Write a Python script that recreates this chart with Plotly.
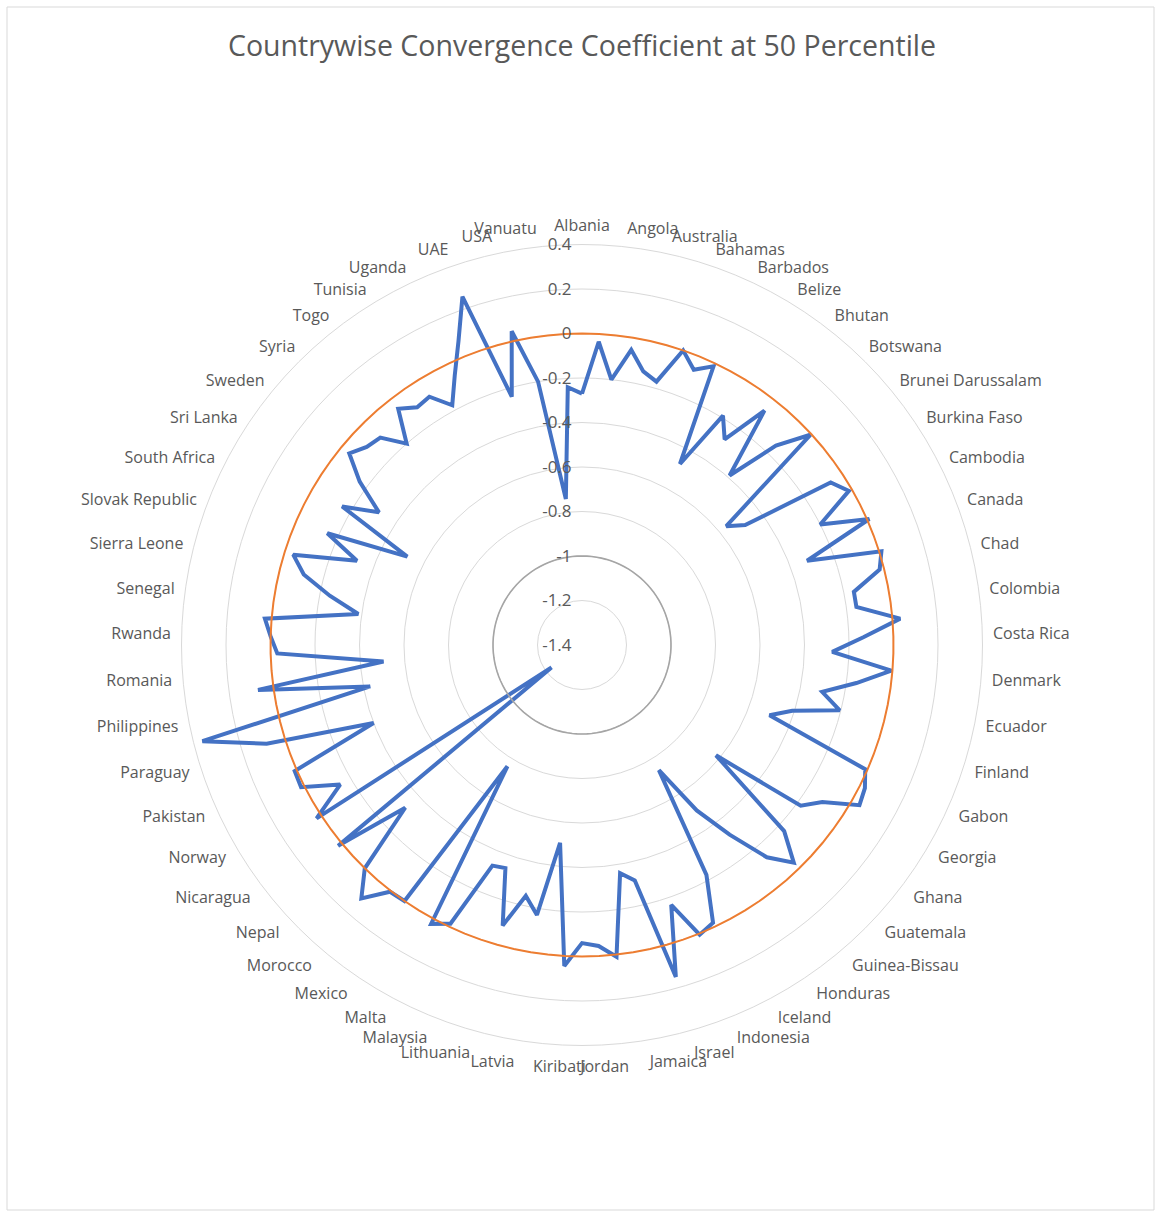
import plotly.graph_objects as go

TITLE = "Countrywise Convergence Coefficient at 50 Percentile"

countries = [
    "Albania", "Algeria", "Angola", "Argentina", "Australia", "Austria",
    "Bahamas", "Bangladesh", "Barbados", "Belgium", "Belize", "Benin",
    "Bhutan", "Bolivia", "Botswana", "Brazil", "Brunei Darussalam", "Bulgaria",
    "Burkina Faso", "Burundi", "Cambodia", "Cameroon", "Canada", "Central African Republic",
    "Chad", "Chile", "Colombia", "Congo", "Costa Rica", "Cyprus",
    "Denmark", "Dominican Republic", "Ecuador", "Egypt", "Finland", "France",
    "Gabon", "Gambia", "Georgia", "Germany", "Ghana", "Greece",
    "Guatemala", "Guinea", "Guinea-Bissau", "Haiti", "Honduras", "Hungary",
    "Iceland", "India", "Indonesia", "Ireland", "Israel", "Italy",
    "Jamaica", "Japan", "Jordan", "Kenya", "Kiribati", "Korea",
    "Latvia", "Lesotho", "Lithuania", "Madagascar", "Malaysia", "Mali",
    "Malta", "Mauritius", "Mexico", "Mongolia", "Morocco", "Namibia",
    "Nepal", "Netherlands", "Nicaragua", "Niger", "Norway", "Oman",
    "Pakistan", "Panama", "Paraguay", "Peru", "Philippines", "Portugal",
    "Romania", "Russia", "Rwanda", "Saudi Arabia", "Senegal", "Seychelles",
    "Sierra Leone", "Singapore", "Slovak Republic", "Slovenia", "South Africa", "Spain",
    "Sri Lanka", "Sudan", "Sweden", "Switzerland", "Syria", "Thailand",
    "Togo", "Trinidad and Tobago", "Tunisia", "Turkey", "Uganda", "Ukraine",
    "UAE", "UK", "USA", "Uruguay", "Vanuatu", "Venezuela",
]

coefficient_50 = [
    -0.27, -0.035, -0.20, -0.055, -0.14, -0.17,
    0.0, -0.065, -0.015, -0.475, -0.19, -0.275,
    -0.065, -0.39, -0.15, -0.005, -0.56, -0.49,
    -0.065, -0.015, -0.20, 0.01, -0.32, 0.01,
    -0.02, -0.155, -0.155, 0.035, -0.135, -0.275,
    -0.005, -0.155, -0.30, -0.205, -0.41, -0.50,
    -0.01, 0.025, 0.04, -0.11, -0.18, -0.62,
    -0.165, -0.035, -0.135, -0.32, -0.495, -0.74,
    -0.225, -0.02, 0.005, -0.165, 0.15, -0.315,
    -0.36, 0.01, -0.045, -0.06, 0.045, -0.505,
    -0.17, -0.245, -0.09, -0.34, -0.33, -0.015,
    0.025, -0.76, 0.0, 0.005, 0.11, 0.0,
    -0.32, 0.02, -1.23, 0.025, -0.145, 0.015,
    0.01, -0.40, 0.085, 0.36, -0.43, 0.07,
    -0.505, -0.03, 0.0, 0.03, -0.385, -0.245,
    -0.11, -0.04, -0.32, -0.15, -0.52, -0.155,
    -0.31, -0.16, -0.045, -0.085, -0.10, -0.20,
    -0.055, -0.10, -0.09, -0.175, -0.06, 0.075,
    0.255, -0.24, 0.045, -0.20, -0.74, -0.24,
]

zero_line = [0.0] * len(countries)
minus_one_line = [-1.0] * len(countries)

labelled = countries[::2]

radial_ticks = [-1.4, -1.2, -1.0, -0.8, -0.6, -0.4, -0.2, 0.0, 0.2, 0.4]
radial_text = ["-1.4", "-1.2", "-1", "-0.8", "-0.6", "-0.4", "-0.2", "0", "0.2", "0.4"]


def closed(seq):
    return list(seq) + [seq[0]]


fig = go.Figure()
fig.add_trace(go.Scatterpolar(
    r=closed(coefficient_50), theta=closed(countries), mode="lines",
    line=dict(color="#4472C4", width=4), name="Coefficient"))
fig.add_trace(go.Scatterpolar(
    r=closed(zero_line), theta=closed(countries), mode="lines",
    line=dict(color="#ED7D31", width=2), name="Zero"))
fig.add_trace(go.Scatterpolar(
    r=closed(minus_one_line), theta=closed(countries), mode="lines",
    line=dict(color="#A5A5A5", width=1.6), name="Minus one"))

W, H = 1156, 1213
cx, cy, R = 582, 645, 400.5

fig.update_layout(
    width=W, height=H,
    margin=dict(l=0, r=0, t=0, b=0),
    paper_bgcolor="white",
    showlegend=False,
    font=dict(family="Open Sans", color="#595959"),
    title=dict(text=TITLE, x=582 / W, xanchor="center", y=1 - 46 / H, yanchor="middle",
               font=dict(size=28.5, color="#595959", family="Open Sans")),
    polar=dict(
        domain=dict(x=[(cx - R) / W, (cx + R) / W], y=[1 - (cy + R) / H, 1 - (cy - R) / H]),
        bgcolor="white",
        angularaxis=dict(
            type="category", categoryorder="array", categoryarray=countries,
            rotation=90, direction="clockwise",
            tickmode="array", tickvals=labelled, ticktext=labelled,
            showgrid=False, showline=True, linecolor="#D9D9D9", linewidth=1,
            ticks="outside", ticklen=7, tickcolor="rgba(0,0,0,0)",
            tickfont=dict(size=16, color="#595959"),
        ),
        radialaxis=dict(
            range=[-1.4, 0.4], angle=90, side="counterclockwise", tickangle=90,
            tickmode="array", tickvals=radial_ticks, ticktext=radial_text,
            showline=False, ticks="outside", ticklen=4, tickcolor="rgba(0,0,0,0)",
            gridcolor="#D9D9D9", gridwidth=1,
            tickfont=dict(size=17, color="#595959"),
        ),
    ),
    shapes=[dict(type="rect", xref="paper", yref="paper",
                 x0=7 / W, x1=1154 / W, y0=1 - 1210 / H, y1=1 - 7 / H,
                 line=dict(color="#D9D9D9", width=1), fillcolor="rgba(0,0,0,0)", layer="below")],
)

fig.write_html("out.html", config={"displayModeBar": False},
               post_script="document.body.style.margin='0';document.body.style.overflow='hidden';")
